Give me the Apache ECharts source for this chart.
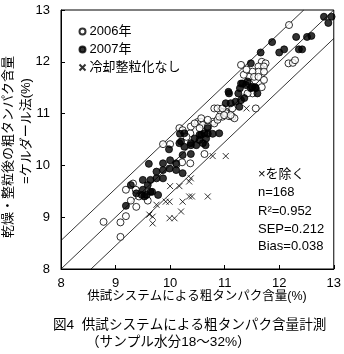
<!DOCTYPE html>
<html>
<head>
<meta charset="utf-8">
<script src="https://cdn.jsdelivr.net/npm/echarts@6/dist/echarts.min.js"></script>
<style>html,body{margin:0;padding:0;background:#fff}#c{width:344px;height:354px}</style>
</head>
<body>
<div id="c"></div>
<script>
// ---- data ----
var axisMin = 8, axisMax = 13, axisStep = 1;
var seriesNames = ['2006年', '2007年', '冷却整粒化なし'];
var open2006 = [
  [8.78,8.91],[9.09,8.62],[9.09,8.90],[9.19,9.02],[9.19,9.53],[9.37,9.53],[9.28,9.32],[9.38,9.20],[9.59,9.32],[9.32,9.65],[9.43,9.40],
  [9.87,10.41],[10.00,10.41],[10.37,10.04],[10.63,10.22],[10.37,10.62],[10.17,10.72],[10.23,10.68],[10.38,10.75],[10.30,10.55],[10.12,10.02],[10.22,10.06],
  [10.51,10.84],[10.57,10.84],[10.45,10.81],[10.60,10.78],[10.54,10.72],[10.69,10.75],[10.78,10.84],[10.81,10.81],[10.87,10.88],
  [10.96,10.94],[11.08,10.95],[11.02,11.04],[10.93,11.04],[10.57,10.91],[10.69,10.88],[10.90,10.94],[11.02,11.01],[11.14,10.94],[11.18,10.91],
  [10.81,11.10],[10.87,11.10],[10.96,11.10],[10.99,10.97],[11.11,10.97],[11.14,11.10],[11.57,11.10],
  [11.30,11.94],[11.68,12.00],[11.75,11.97],[11.62,11.91],[11.72,11.91],[11.62,11.81],[11.72,11.81],[11.51,11.81],[11.45,11.71],[11.54,11.71],[11.62,11.71],[11.72,11.65],[11.68,11.51],[11.45,11.58],[11.51,11.52],[11.51,11.39],[11.42,11.39],[11.35,11.75],[11.40,11.85],
  [12.17,11.97],[12.25,11.98],[12.29,12.03],[12.18,12.71]
];
var filled2007 = [
  [9.19,9.22],[9.28,9.62],[9.38,9.46],[9.48,9.43],[9.57,9.43],[9.67,9.49],[9.78,9.43],[9.53,9.40],[9.50,9.53],[9.64,9.49],[9.59,9.62],[9.50,9.72],[9.64,9.72],[9.75,9.75],[9.87,9.75],[9.75,9.88],[9.87,9.91],[9.99,9.94],[10.11,9.91],[10.23,9.85],[9.61,10.03],[9.87,10.04],[10.00,10.10],[10.11,10.04],[10.23,10.20],[10.38,10.22],[9.98,10.31],[10.17,10.43],[10.38,10.39],[10.48,10.39],[10.65,10.39],[10.18,10.61],[10.57,10.59],
  [10.54,10.59],[10.63,10.62],[10.69,10.61],[10.78,10.61],[10.45,10.52],[10.54,10.49],[10.38,10.43],[10.60,10.43],[10.26,10.62],[10.20,10.46],[10.26,10.36],[10.66,10.52],[10.69,10.72],[10.90,10.62],
  [11.07,11.42],[11.02,11.20],[11.11,11.20],[11.20,11.23],[11.30,11.26],[11.08,11.39],[11.25,11.39],[11.28,11.49],[11.33,11.58],[11.42,11.62],[11.48,11.49],[11.57,11.49],[11.60,11.39],[11.36,11.30],[11.30,11.58],[11.39,11.55],[11.50,11.51],[11.56,11.51],[11.27,11.13],
  [11.48,11.97],[11.66,12.18],[11.87,12.38],[12.00,12.18],[12.09,12.24],[12.31,12.48],[12.36,12.24],[12.42,12.24],[12.51,12.48],[12.59,12.50],[12.82,12.87],[12.90,12.75],[12.96,12.87]
];
var noCooling = [
  [10.00,9.60],[10.17,9.60],[10.35,9.69],[10.38,9.75],[9.92,9.30],[9.99,9.30],[10.23,9.30],[10.35,9.40],[10.40,9.40],[10.69,9.40],
  [9.68,9.01],[9.68,8.88],[9.99,8.98],[10.08,8.98],[10.20,9.11],[9.75,9.24],[10.78,10.18],[11.02,10.18],[11.40,11.10],[9.62,9.05]
];
var lineUpper = [[8,8.55],[12.45,13]];
var lineMiddle = [[8,8],[13,13]];
var lineLower = [[8.55,8],[13,12.45]];
var noteLines = ['×を除く', 'n=168', 'R²=0.952', 'SEP=0.212', 'Bias=0.038'];
var yNameLines = ['乾燥・整粒後の粗タンパク含量', '=ケルダール法(%)'];
var xName = '供試システムによる粗タンパク含量(%)';
var captionLines = ['図4  供試システムによる粗タンパク含量計測', '（サンプル水分18～32%）'];

// ---- chart ----
var FONT = '"Liberation Sans", "Noto Sans CJK JP", sans-serif';
var chart = echarts.init(document.getElementById('c'), null, {renderer: 'canvas'});
var crossPath = 'path://M0,0L10,10M10,0L0,10';
function lineSeries(d) {
  return {type: 'line', data: d, symbol: 'none', silent: true, clip: true,
    lineStyle: {color: '#000', width: 0.8}, z: 1};
}
var graphics = [];
var noteY = [176, 194, 213, 231, 248];
noteLines.forEach(function (t, i) {
  graphics.push({type: 'text', left: 258, top: noteY[i] - 8,
    style: {text: t, font: '13px ' + FONT, fill: '#000'}});
});
graphics.push({type: 'text', x: 8, y: 147, rotation: Math.PI / 2,
  style: {text: yNameLines[0], font: '13px ' + FONT, fill: '#000', textAlign: 'center', textVerticalAlign: 'middle'}});
graphics.push({type: 'text', x: 26, y: 131, rotation: Math.PI / 2,
  style: {text: yNameLines[1], font: '13px ' + FONT, fill: '#000', textAlign: 'center', textVerticalAlign: 'middle'}});
graphics.push({type: 'text', x: 197, y: 297,
  style: {text: xName, font: '12.5px ' + FONT, fill: '#000', textAlign: 'center', textVerticalAlign: 'middle'}});
graphics.push({type: 'text', x: 53, y: 325,
  style: {text: captionLines[0], font: '13.6px ' + FONT, fill: '#000', textAlign: 'left', textVerticalAlign: 'middle'}});
graphics.push({type: 'text', x: 86, y: 342,
  style: {text: captionLines[1], font: '13.6px ' + FONT, fill: '#000', textAlign: 'left', textVerticalAlign: 'middle'}});

var axisCommon = {
  type: 'value', min: axisMin, max: axisMax, interval: axisStep,
  axisLine: {show: true, lineStyle: {color: '#000', width: 1}},
  axisTick: {show: true, inside: true, length: 4, lineStyle: {color: '#000'}},
  splitLine: {show: false},
  axisLabel: {color: '#000', fontSize: 13, fontFamily: FONT}
};
chart.setOption({
  animation: false,
  backgroundColor: '#fff',
  grid: {left: 61, right: 8, top: 10, bottom: 85, show: true, borderColor: '#000', borderWidth: 1, backgroundColor: 'transparent'},
  xAxis: Object.assign({}, axisCommon, {axisLabel: Object.assign({}, axisCommon.axisLabel, {margin: 8})}),
  yAxis: Object.assign({}, axisCommon, {axisLabel: Object.assign({}, axisCommon.axisLabel, {margin: 11})}),
  legend: {
    data: seriesNames, orient: 'vertical', left: 77, top: 25, itemGap: 5, padding: 0,
    itemWidth: 6, itemHeight: 6,
    textStyle: {color: '#000', fontSize: 13, fontFamily: FONT, padding: [0, 0, 0, -1]}
  },
  graphic: graphics,
  series: [
    lineSeries(lineUpper), lineSeries(lineMiddle), lineSeries(lineLower),
    {name: seriesNames[0], type: 'scatter', data: open2006, symbol: 'circle', symbolSize: 7,
      itemStyle: {color: '#fff', borderColor: '#000', borderWidth: 1}, z: 3},
    {name: seriesNames[1], type: 'scatter', data: filled2007, symbol: 'circle', symbolSize: 7,
      itemStyle: {color: '#000', borderColor: '#000', borderWidth: 1}, z: 4},
    {name: seriesNames[2], type: 'scatter', data: noCooling, symbol: crossPath, symbolSize: 6,
      itemStyle: {color: 'none', borderColor: '#000', borderWidth: 1}, z: 5}
  ]
});
</script>
</body>
</html>
